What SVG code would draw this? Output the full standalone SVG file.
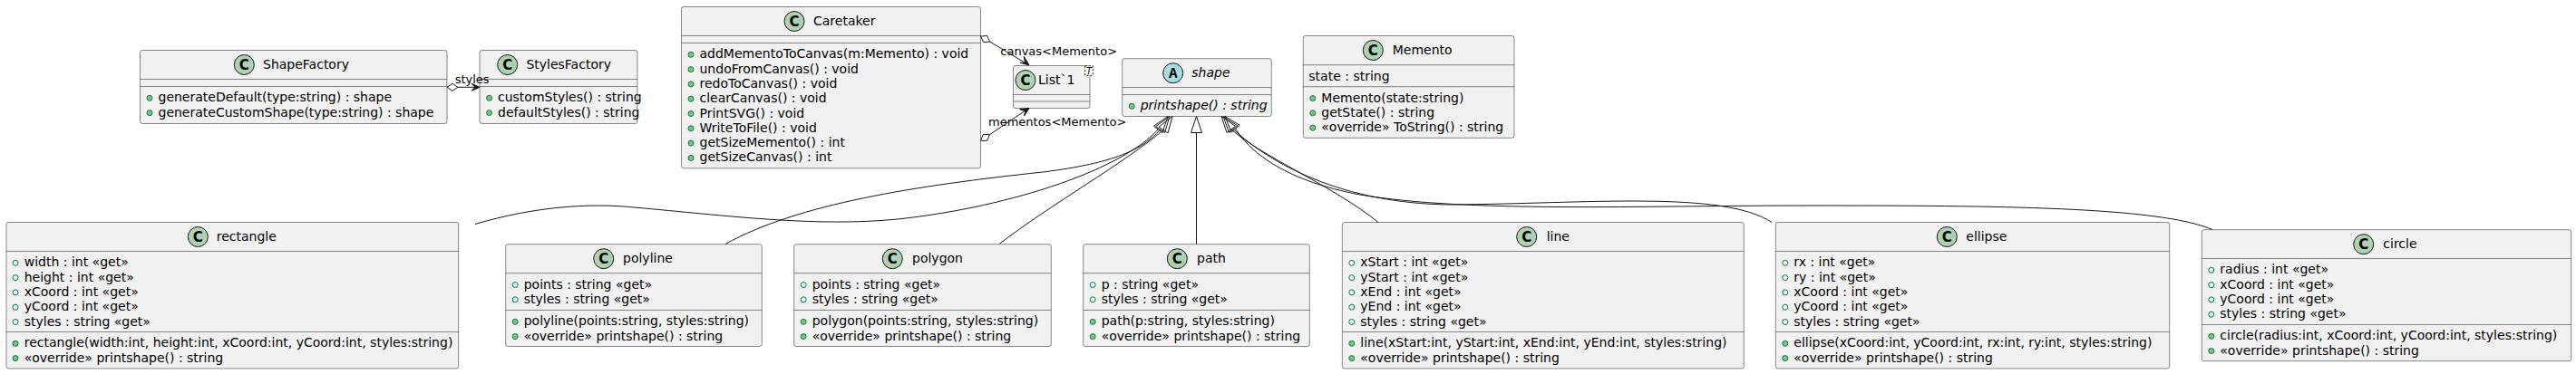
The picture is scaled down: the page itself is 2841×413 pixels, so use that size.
<svg xmlns="http://www.w3.org/2000/svg" width="2841" height="413" viewBox="0 0 2841 413">
<style>
text{font-family:"DejaVu Sans","Liberation Sans",sans-serif;font-size:14px;fill:#000}
.box{fill:#F1F1F1;stroke:#181818;stroke-width:0.5}
.sep{stroke:#181818;stroke-width:0.5}
.spC{fill:#ADD1B2;stroke:#181818;stroke-width:1}
.spA{fill:#A9DCDF;stroke:#181818;stroke-width:1}
.sl{font-weight:bold;font-size:15px;text-anchor:middle}
.slA{font-family:"Liberation Mono",monospace;font-weight:bold;font-size:16px;text-anchor:middle}
.at{fill:none;stroke:#038048;stroke-width:1}
.me{fill:#84BE84;stroke:#038048;stroke-width:1}
.it{font-style:italic}
.edge{fill:none;stroke:#181818;stroke-width:1}
.ext{fill:none;stroke:#181818;stroke-width:1}
.dia{fill:#FFFFFF;stroke:#181818;stroke-width:1}
.head{fill:#181818;stroke:#181818;stroke-width:1}
.lbl{font-size:13px}
</style>
<rect width="2841" height="413" fill="#FFFFFF"/>

<g id="ShapeFactory">
<rect class="box" x="154.5" y="55.5" width="338.5" height="81" rx="2.5"/>
<circle class="spC" cx="269.3" cy="71.5" r="11"/><text class="sl" x="269.3" y="76.8">C</text>
<text x="290" y="76">ShapeFactory</text>
<line class="sep" x1="154.5" y1="87.5" x2="493" y2="87.5"/>
<line class="sep" x1="154.5" y1="95.5" x2="493" y2="95.5"/>
<circle class="me" cx="165" cy="108.3" r="3"/><text x="174.5" y="112.3">generateDefault(type:string) : shape</text>
<circle class="me" cx="165" cy="124.6" r="3"/><text x="174.5" y="128.6">generateCustomShape(type:string) : shape</text>
</g>

<g id="StylesFactory">
<rect class="box" x="529" y="55.5" width="174" height="81" rx="2.5"/>
<circle class="spC" cx="559.7" cy="71.5" r="11"/><text class="sl" x="559.7" y="76.8">C</text>
<text x="580.4" y="76">StylesFactory</text>
<line class="sep" x1="529" y1="87.5" x2="703" y2="87.5"/>
<line class="sep" x1="529" y1="95.5" x2="703" y2="95.5"/>
<circle class="me" cx="539.5" cy="108.3" r="3"/><text x="549" y="112.3">customStyles() : string</text>
<circle class="me" cx="539.5" cy="124.6" r="3"/><text x="549" y="128.6">defaultStyles() : string</text>
</g>

<g id="Caretaker">
<rect class="box" x="751.5" y="7.5" width="330" height="178.3" rx="2.5"/>
<circle class="spC" cx="876" cy="23.5" r="11"/><text class="sl" x="876" y="28.8">C</text>
<text x="897" y="28">Caretaker</text>
<line class="sep" x1="751.5" y1="39.5" x2="1081.5" y2="39.5"/>
<line class="sep" x1="751.5" y1="47.5" x2="1081.5" y2="47.5"/>
<circle class="me" cx="762" cy="60.3" r="3"/><text x="771.5" y="64.3">addMementoToCanvas(m:Memento) : void</text>
<circle class="me" cx="762" cy="76.6" r="3"/><text x="771.5" y="80.6">undoFromCanvas() : void</text>
<circle class="me" cx="762" cy="92.9" r="3"/><text x="771.5" y="96.9">redoToCanvas() : void</text>
<circle class="me" cx="762" cy="109.2" r="3"/><text x="771.5" y="113.2">clearCanvas() : void</text>
<circle class="me" cx="762" cy="125.5" r="3"/><text x="771.5" y="129.5">PrintSVG() : void</text>
<circle class="me" cx="762" cy="141.8" r="3"/><text x="771.5" y="145.8">WriteToFile() : void</text>
<circle class="me" cx="762" cy="158.1" r="3"/><text x="771.5" y="162.1">getSizeMemento() : int</text>
<circle class="me" cx="762" cy="174.4" r="3"/><text x="771.5" y="178.4">getSizeCanvas() : int</text>
</g>

<g id="List1">
<rect class="box" x="1117.5" y="72.5" width="84.5" height="47" rx="2.5"/>
<circle class="spC" cx="1131" cy="88.5" r="11"/><text class="sl" x="1131" y="93.8">C</text>
<text x="1145" y="93">List`1</text>
<line class="sep" x1="1117.5" y1="104.5" x2="1202" y2="104.5"/>
<line class="sep" x1="1117.5" y1="112" x2="1202" y2="112"/>
<rect x="1196.7" y="72.7" width="8.6" height="10.6" fill="#FFFFFF" stroke="#181818" stroke-width="1" stroke-dasharray="2,2"/>
<text class="it" x="1198" y="81.5" style="font-size:10px">T</text>
</g>

<g id="shape">
<rect class="box" x="1237.7" y="64.7" width="164.6" height="63.8" rx="2.5"/>
<circle class="spA" cx="1293.7" cy="80.7" r="11"/><text class="slA" x="1293.7" y="86">A</text>
<text class="it" x="1314.3" y="85.2">shape</text>
<line class="sep" x1="1237.7" y1="96.5" x2="1402.3" y2="96.5"/>
<line class="sep" x1="1237.7" y1="104.5" x2="1402.3" y2="104.5"/>
<circle class="me" cx="1248.2" cy="117.3" r="3"/><text class="it" x="1257.7" y="121.3">printshape() : string</text>
</g>

<g id="Memento">
<rect class="box" x="1437.3" y="39.5" width="232.7" height="112.8" rx="2.5"/>
<circle class="spC" cx="1514.3" cy="55.5" r="11"/><text class="sl" x="1514.3" y="60.8">C</text>
<text x="1535.7" y="60">Memento</text>
<line class="sep" x1="1437.3" y1="71.7" x2="1670" y2="71.7"/>
<text x="1443.3" y="88.5">state : string</text>
<line class="sep" x1="1437.3" y1="95.7" x2="1670" y2="95.7"/>
<circle class="me" cx="1447.8" cy="108.5" r="3"/><text x="1457.3" y="112.5">Memento(state:string)</text>
<circle class="me" cx="1447.8" cy="124.8" r="3"/><text x="1457.3" y="128.8">getState() : string</text>
<circle class="me" cx="1447.8" cy="141.1" r="3"/><text x="1457.3" y="145.1">«override» ToString() : string</text>
</g>

<g id="rectangle">
<rect class="box" x="7" y="245.5" width="498.7" height="161.5" rx="2.5"/>
<circle class="spC" cx="218.3" cy="261.5" r="11"/><text class="sl" x="218.3" y="266.8">C</text>
<text x="238.7" y="266">rectangle</text>
<line class="sep" x1="7" y1="277.5" x2="505.7" y2="277.5"/>
<circle class="at" cx="17" cy="290.3" r="3"/><text x="26.7" y="294.3">width : int «get»</text>
<circle class="at" cx="17" cy="306.6" r="3"/><text x="26.7" y="310.6">height : int «get»</text>
<circle class="at" cx="17" cy="322.9" r="3"/><text x="26.7" y="326.9">xCoord : int «get»</text>
<circle class="at" cx="17" cy="339.2" r="3"/><text x="26.7" y="343.2">yCoord : int «get»</text>
<circle class="at" cx="17" cy="355.5" r="3"/><text x="26.7" y="359.5">styles : string «get»</text>
<line class="sep" x1="7" y1="366.5" x2="505.7" y2="366.5"/>
<circle class="me" cx="17" cy="379.3" r="3"/><text x="26.7" y="383.3">rectangle(width:int, height:int, xCoord:int, yCoord:int, styles:string)</text>
<circle class="me" cx="17" cy="395.6" r="3"/><text x="26.7" y="399.6">«override» printshape() : string</text>
</g>

<g id="polyline">
<rect class="box" x="557.7" y="269.7" width="282.6" height="112.8" rx="2.5"/>
<circle class="spC" cx="665.7" cy="285.7" r="11"/><text class="sl" x="665.7" y="291">C</text>
<text x="687" y="290.2">polyline</text>
<line class="sep" x1="557.7" y1="301.7" x2="840.3" y2="301.7"/>
<circle class="at" cx="568.2" cy="314.5" r="3"/><text x="577.7" y="318.5">points : string «get»</text>
<circle class="at" cx="568.2" cy="330.8" r="3"/><text x="577.7" y="334.8">styles : string «get»</text>
<line class="sep" x1="557.7" y1="342.5" x2="840.3" y2="342.5"/>
<circle class="me" cx="568.2" cy="355.3" r="3"/><text x="577.7" y="359.3">polyline(points:string, styles:string)</text>
<circle class="me" cx="568.2" cy="371.6" r="3"/><text x="577.7" y="375.6">«override» printshape() : string</text>
</g>

<g id="polygon">
<rect class="box" x="875.7" y="269.7" width="283.6" height="112.8" rx="2.5"/>
<circle class="spC" cx="984.3" cy="285.7" r="11"/><text class="sl" x="984.3" y="291">C</text>
<text x="1006" y="290.2">polygon</text>
<line class="sep" x1="875.7" y1="301.7" x2="1159.3" y2="301.7"/>
<circle class="at" cx="886.2" cy="314.5" r="3"/><text x="895.7" y="318.5">points : string «get»</text>
<circle class="at" cx="886.2" cy="330.8" r="3"/><text x="895.7" y="334.8">styles : string «get»</text>
<line class="sep" x1="875.7" y1="342.5" x2="1159.3" y2="342.5"/>
<circle class="me" cx="886.2" cy="355.3" r="3"/><text x="895.7" y="359.3">polygon(points:string, styles:string)</text>
<circle class="me" cx="886.2" cy="371.6" r="3"/><text x="895.7" y="375.6">«override» printshape() : string</text>
</g>

<g id="path">
<rect class="box" x="1194.7" y="269.7" width="249.6" height="112.8" rx="2.5"/>
<circle class="spC" cx="1298.3" cy="285.7" r="11"/><text class="sl" x="1298.3" y="291">C</text>
<text x="1320" y="290.2">path</text>
<line class="sep" x1="1194.7" y1="301.7" x2="1444.3" y2="301.7"/>
<circle class="at" cx="1205.2" cy="314.5" r="3"/><text x="1214.7" y="318.5">p : string «get»</text>
<circle class="at" cx="1205.2" cy="330.8" r="3"/><text x="1214.7" y="334.8">styles : string «get»</text>
<line class="sep" x1="1194.7" y1="342.5" x2="1444.3" y2="342.5"/>
<circle class="me" cx="1205.2" cy="355.3" r="3"/><text x="1214.7" y="359.3">path(p:string, styles:string)</text>
<circle class="me" cx="1205.2" cy="371.6" r="3"/><text x="1214.7" y="375.6">«override» printshape() : string</text>
</g>

<g id="line">
<rect class="box" x="1480.3" y="245.5" width="443" height="161.5" rx="2.5"/>
<circle class="spC" cx="1683.7" cy="261.5" r="11"/><text class="sl" x="1683.7" y="266.8">C</text>
<text x="1705.7" y="266">line</text>
<line class="sep" x1="1480.3" y1="277.5" x2="1923.3" y2="277.5"/>
<circle class="at" cx="1490.8" cy="290.3" r="3"/><text x="1500.3" y="294.3">xStart : int «get»</text>
<circle class="at" cx="1490.8" cy="306.6" r="3"/><text x="1500.3" y="310.6">yStart : int «get»</text>
<circle class="at" cx="1490.8" cy="322.9" r="3"/><text x="1500.3" y="326.9">xEnd : int «get»</text>
<circle class="at" cx="1490.8" cy="339.2" r="3"/><text x="1500.3" y="343.2">yEnd : int «get»</text>
<circle class="at" cx="1490.8" cy="355.5" r="3"/><text x="1500.3" y="359.5">styles : string «get»</text>
<line class="sep" x1="1480.3" y1="366.5" x2="1923.3" y2="366.5"/>
<circle class="me" cx="1490.8" cy="379.3" r="3"/><text x="1500.3" y="383.3">line(xStart:int, yStart:int, xEnd:int, yEnd:int, styles:string)</text>
<circle class="me" cx="1490.8" cy="395.6" r="3"/><text x="1500.3" y="399.6">«override» printshape() : string</text>
</g>

<g id="ellipse">
<rect class="box" x="1958.3" y="245.5" width="434.4" height="161.5" rx="2.5"/>
<circle class="spC" cx="2147.3" cy="261.5" r="11"/><text class="sl" x="2147.3" y="266.8">C</text>
<text x="2168.3" y="266">ellipse</text>
<line class="sep" x1="1958.3" y1="277.5" x2="2392.7" y2="277.5"/>
<circle class="at" cx="1968.8" cy="290.3" r="3"/><text x="1978.3" y="294.3">rx : int «get»</text>
<circle class="at" cx="1968.8" cy="306.6" r="3"/><text x="1978.3" y="310.6">ry : int «get»</text>
<circle class="at" cx="1968.8" cy="322.9" r="3"/><text x="1978.3" y="326.9">xCoord : int «get»</text>
<circle class="at" cx="1968.8" cy="339.2" r="3"/><text x="1978.3" y="343.2">yCoord : int «get»</text>
<circle class="at" cx="1968.8" cy="355.5" r="3"/><text x="1978.3" y="359.5">styles : string «get»</text>
<line class="sep" x1="1958.3" y1="366.5" x2="2392.7" y2="366.5"/>
<circle class="me" cx="1968.8" cy="379.3" r="3"/><text x="1978.3" y="383.3">ellipse(xCoord:int, yCoord:int, rx:int, ry:int, styles:string)</text>
<circle class="me" cx="1968.8" cy="395.6" r="3"/><text x="1978.3" y="399.6">«override» printshape() : string</text>
</g>

<g id="circle">
<rect class="box" x="2428.3" y="253.7" width="407.4" height="145" rx="2.5"/>
<circle class="spC" cx="2606.7" cy="269.7" r="11"/><text class="sl" x="2606.7" y="275">C</text>
<text x="2628.3" y="274.2">circle</text>
<line class="sep" x1="2428.3" y1="285.5" x2="2835.7" y2="285.5"/>
<circle class="at" cx="2438.8" cy="298.3" r="3"/><text x="2448.3" y="302.3">radius : int «get»</text>
<circle class="at" cx="2438.8" cy="314.6" r="3"/><text x="2448.3" y="318.6">xCoord : int «get»</text>
<circle class="at" cx="2438.8" cy="330.9" r="3"/><text x="2448.3" y="334.9">yCoord : int «get»</text>
<circle class="at" cx="2438.8" cy="347.2" r="3"/><text x="2448.3" y="351.2">styles : string «get»</text>
<line class="sep" x1="2428.3" y1="358.5" x2="2835.7" y2="358.5"/>
<circle class="me" cx="2438.8" cy="371.3" r="3"/><text x="2448.3" y="375.3">circle(radius:int, xCoord:int, yCoord:int, styles:string)</text>
<circle class="me" cx="2438.8" cy="387.6" r="3"/><text x="2448.3" y="391.6">«override» printshape() : string</text>
</g>

<g id="connectors">
<!-- ShapeFactory o-> StylesFactory -->
<path class="edge" d="M505,96.3 L528,96.3"/>
<polygon class="dia" points="493,96.3 499,92.3 505,96.3 499,100.3"/>
<polygon class="head" points="529,96.3 520,92.3 524,96.3 520,100.3"/>
<text class="lbl" x="501.7" y="91.7">styles</text>
<!-- Caretaker o-> List`1 canvas -->
<polygon class="dia" points="1081.5,40 1084.6,46.5 1091.8,46.1 1088.7,39.6"/>
<path class="edge" d="M1091.8,46.1 L1134,71.4"/>
<polygon class="head" points="1135,72 1125.2,69.3 1130.7,69.4 1129.3,62.4"/>
<text class="lbl" x="1103.3" y="61">canvas&lt;Memento&gt;</text>
<!-- Caretaker o-> List`1 mementos -->
<polygon class="dia" points="1081.5,155.3 1088.7,155.3 1091.5,148.6 1084.3,148.6"/>
<path class="edge" d="M1091.5,148.6 L1134,120"/>
<polygon class="head" points="1135,119.5 1129.6,128.1 1130.8,122.8 1124.6,120.6"/>
<text class="lbl" x="1090" y="139.3">mementos&lt;Memento&gt;</text>
<!-- inheritance -->
<path class="edge" d="M524,247.5 C590,228 650,224 700,229 C800,238 900,251 990,242 C1120,228 1240,185 1277.2,142.9"/>
<polygon class="ext" points="1288,128.5 1282,146.5 1272.4,139.3"/>
<path class="edge" d="M800,269.5 C880,225 1010,205 1150,190 C1230,180 1260,165 1279.6,143.1"/>
<polygon class="ext" points="1290,128.5 1284.5,146.6 1274.7,139.6"/>
<path class="edge" d="M1102,269.5 C1160,225 1240,180 1283.1,143.5"/>
<polygon class="ext" points="1293,128.5 1288.1,146.8 1278.1,140.2"/>
<path class="edge" d="M1319.5,269.5 L1319.5,146.5"/>
<polygon class="ext" points="1319.5,128.5 1313.5,146.5 1325.5,146.5"/>
<path class="edge" d="M1520,245.5 C1470,205 1395,175 1357.8,142.9"/>
<polygon class="ext" points="1347,128.5 1353,146.5 1362.6,139.3"/>
<path class="edge" d="M1954,245.5 C1900,210 1750,225 1600,226 C1480,225 1400,180 1360.2,142.6"/>
<polygon class="ext" points="1349,128.5 1355.5,146.3 1364.9,138.9"/>
<path class="edge" d="M2440,253.5 C2380,228 2200,227 2000,227 C1800,227 1620,235 1500,215 C1420,200 1380,170 1362.7,142.2"/>
<polygon class="ext" points="1351,128.5 1358.1,146.1 1367.3,138.3"/>
</g>
</svg>
